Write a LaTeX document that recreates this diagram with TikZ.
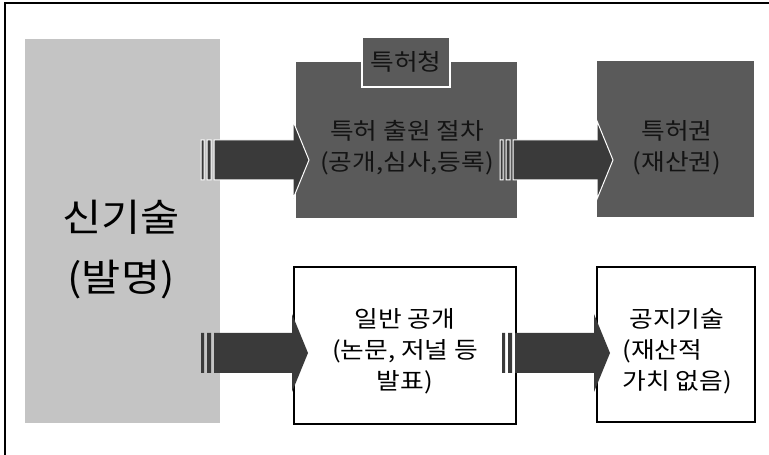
\documentclass[tikz,border=0pt]{standalone}
\usepackage{fontspec}
\newfontfamily\kr[FakeStretch=1.12]{Noto Sans CJK KR}
\usetikzlibrary{calc}
\definecolor{darkbox}{HTML}{5A5A5A}
\definecolor{arrowc}{HTML}{3A3A3A}
\definecolor{lightbox}{HTML}{C4C4C4}
\definecolor{inkdark}{HTML}{141414}
\begin{document}
\begin{tikzpicture}[x=1pt,y=1pt,
  base/.style={inner sep=0pt, outer sep=0pt},
  lightst/.style={base, fill=lightbox},
  darkst/.style={base, fill=darkbox},
  whitest/.style={base, fill=white, draw=black, line width=1.4pt},
  bigtxt/.style={font=\kr\fontsize{38}{60}\selectfont, align=center},
  smalltxt/.style={font=\kr\fontsize{23}{31}\selectfont, align=center},
  ondark/.style={smalltxt, text=inkdark},
  striparrow/.style={to path={let \p1=(\tikztostart), \p2=(\tikztotarget) in
    (\x1,\y1-20) rectangle (\x1+3,\y1+20)
    (\x1+6,\y1-20) rectangle (\x1+10,\y1+20)
    (\x1+13,\y1-20) -- (\x2-16,\y1-20) -- (\x2-16,\y1-39) -- (\x2,\y1)
    -- (\x2-16,\y1+39) -- (\x2-16,\y1+20) -- (\x1+13,\y1+20) -- cycle}},
  toparrow/.style={striparrow, fill=arrowc, draw=white, line width=1pt},
  botarrow/.style={striparrow, fill=arrowc}
]
\useasboundingbox (0,0) rectangle (769,455);
% frame
\draw[line width=1.2pt] (5,0) -- (5,452) -- (769,452);

% boxes
\node[lightst, minimum width=195pt, minimum height=384pt] (L) at (122.5,224) {};
\node[darkst, minimum width=221pt, minimum height=156pt] (M) at (406.5,315) {};
\node[darkst, minimum width=157pt, minimum height=156pt] (R) at (675.5,316) {};
\node[whitest, minimum width=222pt, minimum height=157pt] (G) at (405,109.5) {};
\node[whitest, minimum width=158pt, minimum height=155pt] (K) at (676,110.5) {};
\node[darkst, draw=white, line width=1.2pt, minimum width=88pt, minimum height=50pt] (P) at (406,393) {};

% arrow end points
\coordinate (yt) at (0,295);
\coordinate (yb) at (0,102);
\coordinate (a1s) at ([xshift=-19pt]L.east);
\coordinate (a1e) at ([xshift=13pt]M.west);
\coordinate (a2s) at ([xshift=-17pt]M.east);
\coordinate (a2e) at ([xshift=16pt]R.west);
\coordinate (b1s) at ([xshift=-19pt]L.east);
\coordinate (b1e) at ([xshift=14pt]G.west);
\coordinate (b2s) at ([xshift=-14pt]G.east);
\coordinate (b2e) at ([xshift=13pt]K.west);

\path[toparrow] (a1s |- yt) to (a1e |- yt);
\path[toparrow] (a2s |- yt) to (a2e |- yt);
\path[botarrow] (b1s |- yb) to (b1e |- yb);
\path[botarrow] (b2s |- yb) to (b2e |- yb);

% texts
\node[ondark] (Pt) at (P.center) {특허청};
\node[bigtxt] (Lt) at (121,205) {신기술\\(발명)};
\node[ondark] (Mt) at (407,307) {특허 출원 절차\\(공개,심사,등록)};
\node[ondark] (Rt) at (677,307) {특허권\\(재산권)};
\node[smalltxt] (Gt) at (405,104) {일반 공개\\(논문, 저널 등\\발표)};
\node[smalltxt, align=left, anchor=west] (Kt) at (619,104) {\hspace*{0.3em}공지기술\\(재산적\\가치 없음)};
\end{tikzpicture}
\end{document}
